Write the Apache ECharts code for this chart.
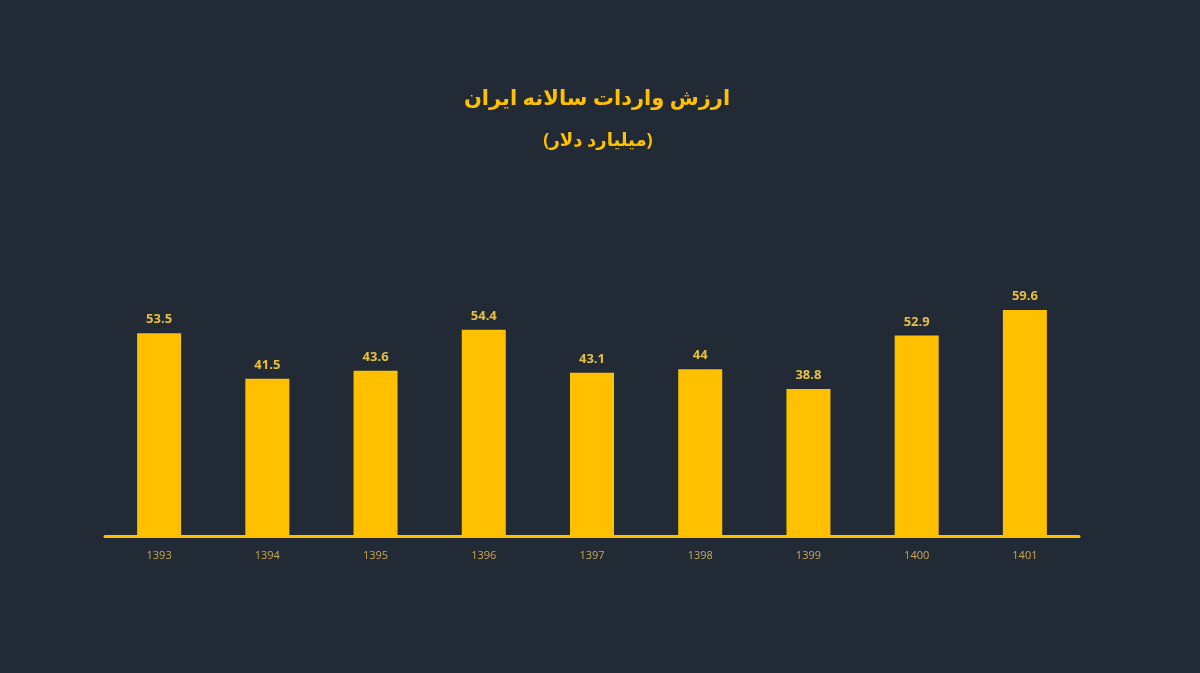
<!DOCTYPE html>
<html><head><meta charset="utf-8">
<script src="https://cdn.jsdelivr.net/npm/echarts@6/dist/echarts.min.js"></script>
<style>html,body{margin:0;padding:0;background:#222a35;}#c{width:1200px;height:673px;}</style>
</head><body><div id="c"></div>
<script>
const categories = ['1393','1394','1395','1396','1397','1398','1399','1400','1401'];
const values = [53.5, 41.5, 43.6, 54.4, 43.1, 44, 38.8, 52.9, 59.6];
const titleText = 'ارزش واردات سالانه ایران';
const subtitleText = '(میلیارد دلار)';

const chart = echarts.init(document.getElementById('c'));
chart.setOption({
  backgroundColor: '#222a35',
  animation: false,
  title: [
    { text: titleText, left: 592, top: 84, textAlign: 'center',
      textStyle: { color: '#FFC000', fontSize: 21, fontWeight: 'bold', fontFamily: 'Noto Sans, DejaVu Sans, sans-serif' } },
    { text: subtitleText, left: 593, top: 127, textAlign: 'center',
      textStyle: { color: '#FFC000', fontSize: 18, fontWeight: 'bold', fontFamily: 'Noto Sans, DejaVu Sans, sans-serif' } }
  ],
  grid: { left: 105, right: 121, top: 270.7, bottom: 137, containLabel: false },
  xAxis: {
    type: 'category', data: categories,
    axisLine: { lineStyle: { color: '#FFC000', width: 3 } },
    axisTick: { show: false },
    axisLabel: { color: '#C9AA55', fontSize: 11, margin: 14, fontFamily: 'Open Sans, sans-serif' }
  },
  yAxis: { type: 'value', min: 0, max: 70, show: false, splitLine: { show: false } },
  series: [{
    type: 'bar', data: values, barWidth: 44,
    itemStyle: { color: '#FFC000' },
    label: { show: true, position: 'top', distance: 7, color: '#E8C040', fontSize: 13, fontWeight: 'bold', fontFamily: 'Open Sans, sans-serif' }
  }]
});
</script></body></html>
